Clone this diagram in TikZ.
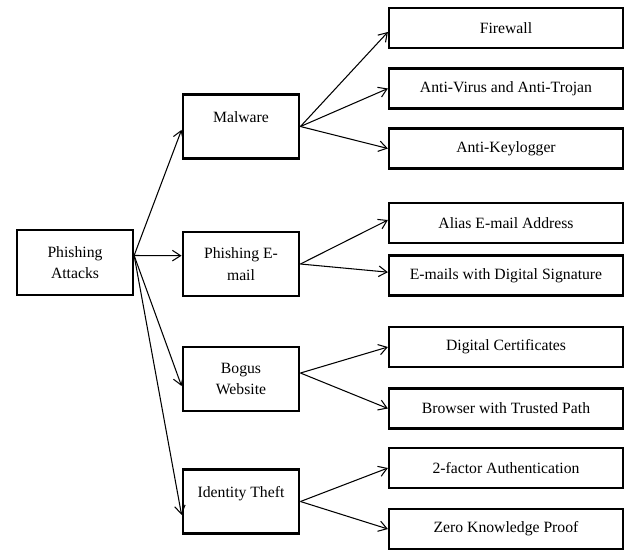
\documentclass[tikz,border=0pt]{standalone}
\usepackage{fontspec}
\setmainfont{Liberation Serif}
\usetikzlibrary{arrows.meta}
\begin{document}
\begin{tikzpicture}[x=0.03cm,y=-0.03cm,
	box/.style={draw,line width=1.9pt,inner sep=0pt,align=center,font=\fontsize{13.4}{18.5}\selectfont},
	midbox/.style={box,minimum width=3.5cm,minimum height=1.92cm},
	leafbox/.style={box,minimum width=7.02cm,minimum height=1.2cm},
	topline/.style={text depth=0.55cm},
	arr/.style={line width=0.9pt,-{Straight Barb[length=7pt,width=9pt]}}]
	\useasboundingbox (0,0) rectangle (628,550);

	\node[box,minimum width=3.48cm,minimum height=1.95cm] (root) at (75,262.5) {Phishing\\Attacks};
	\coordinate (rootout) at ([yshift=0.21cm]root.east);

	\node[midbox,topline] (mal) at (241,126.5) {Malware};
	\node[midbox] (mail) at (241,264) {Phishing E-\\mail};
	\node[midbox] (web) at (241,379) {Bogus\\Website};
	\node[midbox,topline] (idt) at (241,501.5) {Identity Theft};

	\node[leafbox] (fw) at (506,28) {Firewall};
	\node[leafbox] (av) at (506,88.5) {Anti-Virus and Anti-Trojan};
	\node[leafbox] (kl) at (506,148.5) {Anti-Keylogger};
	\node[leafbox] (alias) at (506,223) {Alias E-mail Address};
	\node[leafbox] (sign) at (506,275.5) {E-mails with Digital Signature};
	\node[leafbox] (cert) at (506,347) {Digital Certificates};
	\node[leafbox] (path) at (506,408.5) {Browser with Trusted Path};
	\node[leafbox] (twofa) at (506,468) {2-factor Authentication};
	\node[leafbox] (zkp) at (506,529) {Zero Knowledge Proof};

	\draw[arr] (rootout) -- ([yshift=-0.1cm]mal.west);
	\draw[arr] (rootout) -- ([yshift=0.25cm]mail.west);
	\draw[arr] (rootout) -- ([yshift=-0.21cm]web.west);
	\draw[arr] (rootout) -- ([yshift=-0.4cm]idt.west);

	\draw[arr] (mal.east) -- ([yshift=-0.12cm]fw.west);
	\draw[arr] (mal.east) -- (av.west);
	\draw[arr] (mal.east) -- (kl.west);

	\draw[arr] (mail.east) -- ([yshift=0.09cm]alias.west);
	\draw[arr] (mail.east) -- ([yshift=0.1cm]sign.west);

	\draw[arr] ([yshift=0.18cm]web.east) -- (cert.west);
	\draw[arr] ([yshift=0.18cm]web.east) -- (path.west);

	\draw[arr] (idt.east) -- (twofa.west);
	\draw[arr] (idt.east) -- (zkp.west);
\end{tikzpicture}
\end{document}
